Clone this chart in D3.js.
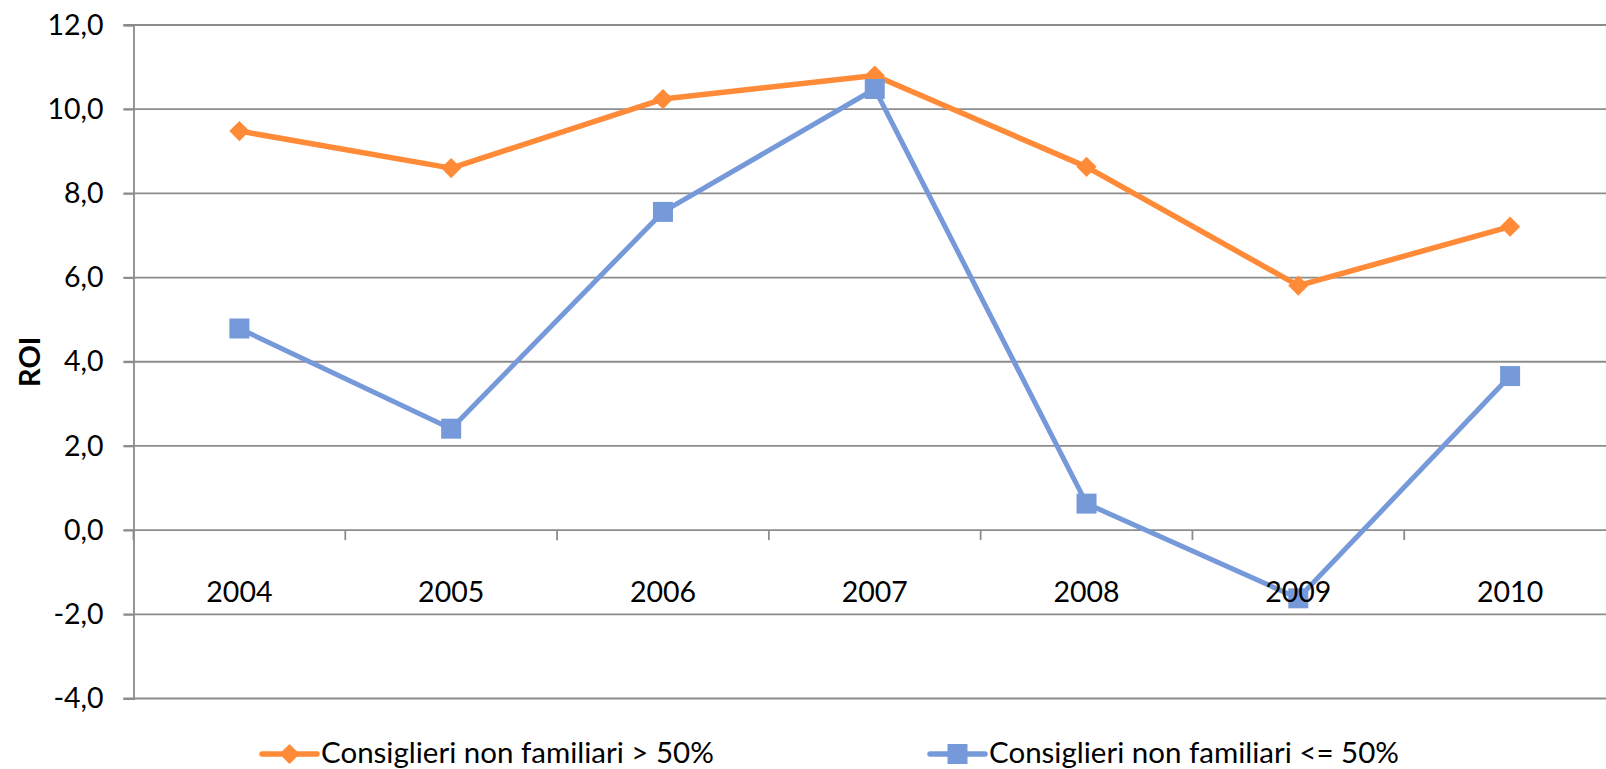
<!DOCTYPE html>
<html>
<head>
<meta charset="utf-8">
<script src="https://cdn.jsdelivr.net/npm/d3@7"></script>
<style>
  html, body { margin: 0; padding: 0; background: #fff; overflow: hidden; }
  svg { display: block; }
  text { font-family: Lato, "Open Sans", sans-serif; fill: #000; }
</style>
</head>
<body>
<script>
// ---- data ----
const years = ["2004", "2005", "2006", "2007", "2008", "2009", "2010"];
const seriesNames = ["Consiglieri non familiari > 50%", "Consiglieri non familiari <= 50%"];
const seriesHigh = [9.48, 8.60, 10.24, 10.80, 8.63, 5.81, 7.21];
const seriesLow = [4.79, 2.41, 7.56, 10.48, 0.63, -1.62, 3.66];
const yTicks = [-4, -2, 0, 2, 4, 6, 8, 10, 12];
const yTitle = "ROI";

// ---- layout ----
const W = 1606, H = 769;
const pLeft = 133.5, pRight = 1616, pTop = 25, pBottom = 698.5;
const gridColor = "#8c8c8c";
const colors = ["#ff8a38", "#7699da"];

const svg = d3.select("body").append("svg").attr("width", W).attr("height", H);

const x = d3.scaleBand().domain(years).range([pLeft, pRight]).padding(0);
const y = d3.scaleLinear().domain([-4, 12]).range([pBottom, pTop]);
const cx = d => x(d) + x.bandwidth() / 2;

const locale = d3.formatLocale({ decimal: ",", thousands: ".", grouping: [3], currency: ["", "€"], minus: "-" });
const fmt = locale.format(".1f");

// gridlines
svg.append("g").selectAll("line").data(yTicks).join("line")
  .attr("x1", pLeft - 10).attr("x2", pRight)
  .attr("y1", d => y(d)).attr("y2", d => y(d))
  .attr("stroke", gridColor).attr("stroke-width", 1.8);

// y axis
const yAxis = svg.append("g").attr("transform", `translate(${pLeft},0)`)
  .call(d3.axisLeft(y).tickValues(yTicks).tickFormat(fmt).tickSize(10).tickPadding(20));
yAxis.select(".domain").attr("stroke", gridColor).attr("stroke-width", 1.8);
yAxis.selectAll(".tick line").attr("stroke", gridColor).attr("stroke-width", 1.8);
yAxis.selectAll(".tick text").attr("font-size", 28.5).attr("font-family", "Lato, sans-serif").attr("fill", "#000");

// x axis at zero
const xAxis = svg.append("g").attr("transform", `translate(0,${y(0)})`)
  .call(d3.axisBottom(x).tickSize(0).tickPadding(52));
xAxis.select(".domain").remove();
xAxis.selectAll(".tick text").attr("font-size", 28.5).attr("font-family", "Lato, sans-serif").attr("fill", "#000");
// category boundary ticks
const bounds = years.map(d => x(d)).concat([x(years[years.length - 1]) + x.bandwidth()]);
svg.append("g").selectAll("line").data(bounds).join("line")
  .attr("x1", d => d).attr("x2", d => d)
  .attr("y1", y(0)).attr("y2", y(0) + 10)
  .attr("stroke", gridColor).attr("stroke-width", 1.8);

// y title
svg.append("text")
  .attr("transform", `translate(40,${(pTop + pBottom) / 2}) rotate(-90)`)
  .attr("text-anchor", "middle")
  .attr("font-size", 29).attr("font-weight", "bold")
  .text(yTitle);

// series
const line = d3.line().x((d, i) => cx(years[i])).y(d => y(d));
const plot = svg.append("g");
const diamond = d3.symbol().type(d3.symbolDiamond2).size(260);
const square = d3.symbol().type(d3.symbolSquare).size(400);

[seriesHigh, seriesLow].forEach((vals, si) => {
  plot.append("path").datum(vals)
    .attr("d", line).attr("fill", "none")
    .attr("stroke", colors[si]).attr("stroke-width", si === 0 ? 5.5 : 5)
    .attr("stroke-linejoin", "round").attr("stroke-linecap", "round");
  plot.append("g").selectAll("path").data(vals).join("path")
    .attr("transform", (d, i) => `translate(${cx(years[i])},${y(d)})`)
    .attr("d", si === 0 ? diamond() : square())
    .attr("fill", colors[si]);
});

// bring x labels on top
xAxis.raise();

// legend
const legendItems = [
  { name: seriesNames[0], x0: 262, sym: diamond, color: colors[0] },
  { name: seriesNames[1], x0: 930, sym: square, color: colors[1] }
];
const ly = 754;
const lg = svg.append("g");
legendItems.forEach(it => {
  lg.append("line").attr("x1", it.x0).attr("x2", it.x0 + 55).attr("y1", ly).attr("y2", ly)
    .attr("stroke", it.color).attr("stroke-width", 5.5).attr("stroke-linecap", "round");
  lg.append("path").attr("transform", `translate(${it.x0 + 27.5},${ly})`).attr("d", it.sym()).attr("fill", it.color);
  lg.append("text").attr("x", it.x0 + 59).attr("y", 763)
    .attr("font-size", 29.5).text(it.name);
});
</script>
</body>
</html>
